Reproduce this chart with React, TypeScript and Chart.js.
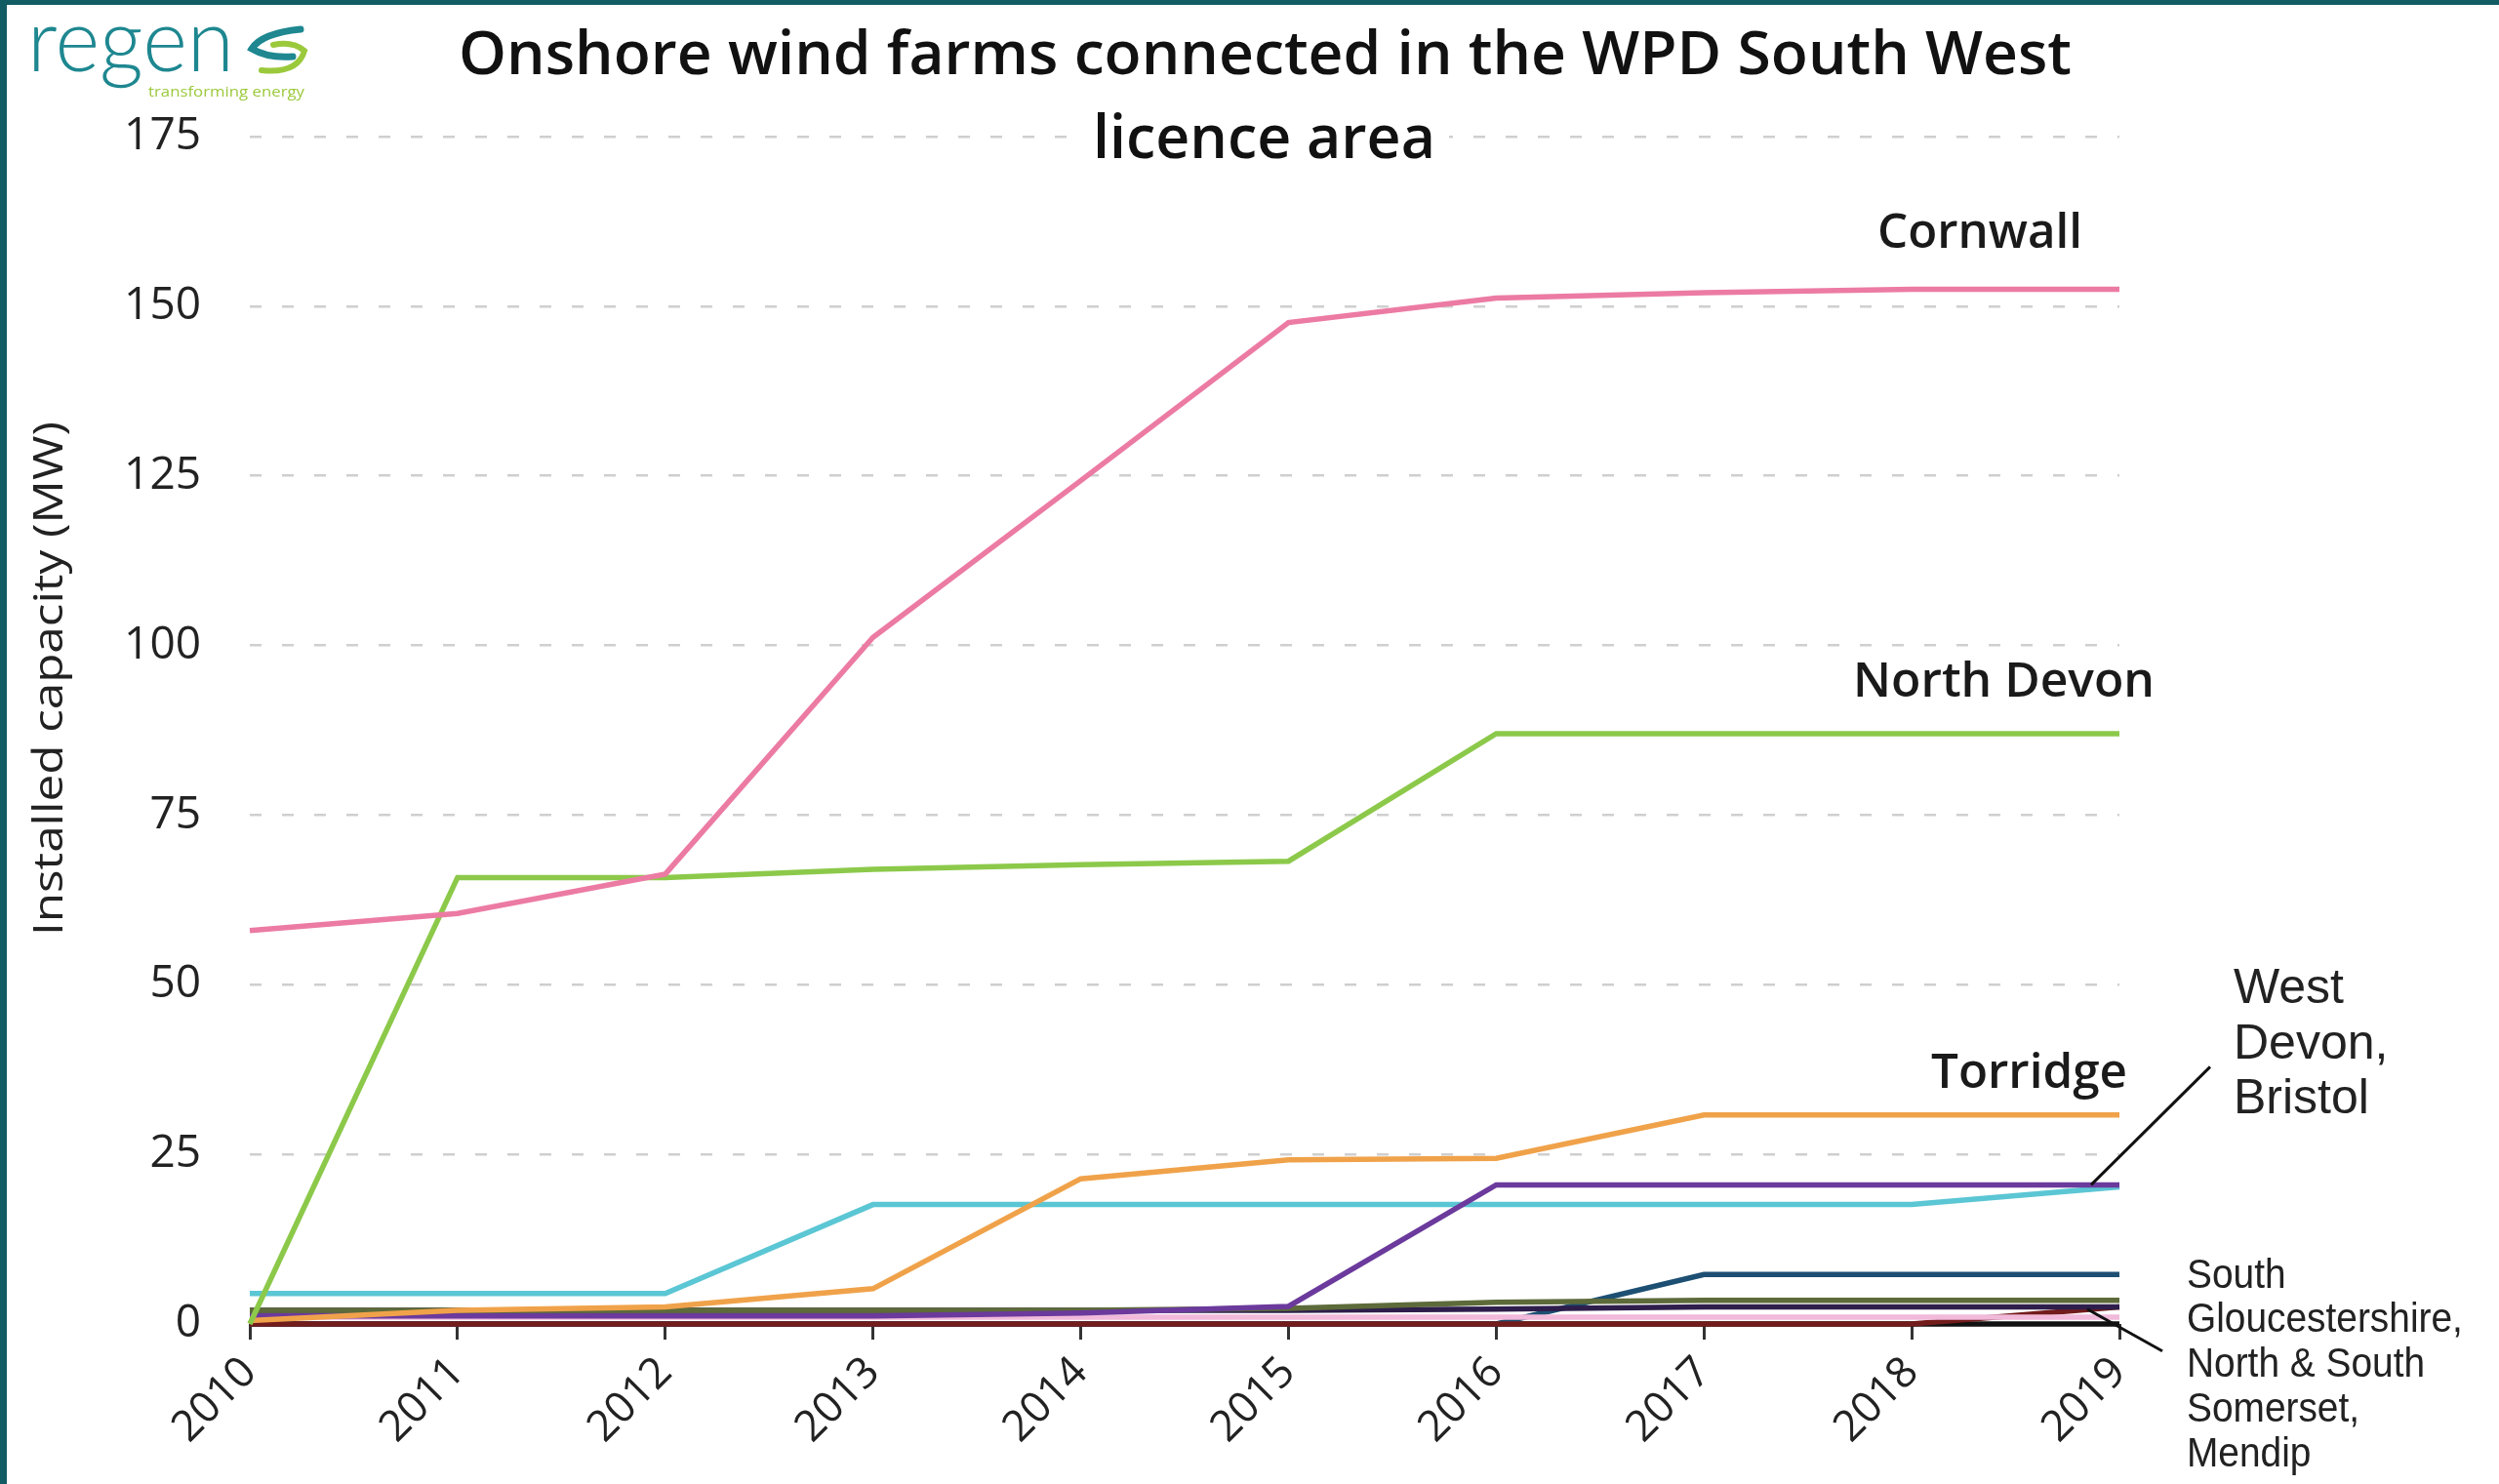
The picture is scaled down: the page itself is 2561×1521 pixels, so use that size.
import React, { useEffect, useRef } from 'react';
import { Chart, registerables } from 'chart.js';

Chart.register(...registerables);

// ---------- data ----------
const years = ['2010', '2011', '2012', '2013', '2014', '2015', '2016', '2017', '2018', '2019'];

const cornwall = [58, 60.5, 66.3, 101.2, 124.3, 147.6, 151.2, 152, 152.5, 152.5];
const northDevon = [0, 65.8, 65.8, 67, 67.7, 68.2, 87, 87, 87, 87];
const torridge = [0.5, 2, 2.5, 5.2, 21.4, 24.2, 24.4, 30.8, 30.8, 30.8];
const westDevon = [1.2, 1.2, 1.2, 1.2, 1.6, 2.6, 20.5, 20.5, 20.5, 20.5];
const bristol = [4.5, 4.5, 4.5, 17.6, 17.6, 17.6, 17.6, 17.6, 17.6, 20.2];
const southGloucestershire = [2, 2, 2, 2, 2, 2.3, 3.2, 3.5, 3.5, 3.5];
const northSomerset = [2, 2, 2, 2, 2, 2, 2.2, 2.5, 2.5, 2.5];
const teignbridge = [1, 1, 1, 1, 1, 1, 1, 1, 1, 1];
const southSomerset = [0, 0, 0, 0, 0, 0, 0, 0, 0, 2.5];
const midDevon = [0, 0, 0, 0, 0, 0, 0, 7.3, 7.3, 7.3];
const mendip = [0, 0, 0, 0, 0, 0, 0, 0, 0, 0];

// first entry is drawn on top
const seriesNames = [
  'Cornwall', 'North Devon', 'Torridge', 'West Devon', 'Bristol',
  'South Gloucestershire', 'North Somerset', 'Teignbridge', 'South Somerset', 'Mid Devon', 'Mendip',
];
const seriesValues = [
  cornwall, northDevon, torridge, westDevon, bristol,
  southGloucestershire, northSomerset, teignbridge, southSomerset, midDevon, mendip,
];
const seriesColors = [
  '#EC7BA3', '#8CC94A', '#F0A24A', '#6B3A9C', '#5BC6D4',
  '#5D6A3A', '#2E1E4C', '#F1B9DA', '#731C1C', '#1D4F73', '#111111',
];

const yMin = 0;
const yMax = 175;
const yStep = 25;

const titleLines = ['Onshore wind farms connected in the WPD South West', 'licence area'];
const yAxisTitle = 'Installed capacity (MW)';
const boldLabels = ['Cornwall', 'North Devon', 'Torridge'];
const westDevonLabel = ['West', 'Devon,', 'Bristol'];
const southLabel = ['South', 'Gloucestershire,', 'North & South', 'Somerset,', 'Mendip'];
const logoText = 'regen';
const logoTagline = 'transforming energy';

// ---------- helpers ----------
function fitText(ctx: CanvasRenderingContext2D, text: string, x: number, y: number, width: number) {
  const w = ctx.measureText(text).width;
  const s = width / w;
  ctx.save();
  ctx.translate(x, y);
  ctx.scale(s, 1);
  ctx.textAlign = 'left';
  ctx.fillText(text, 0, 0);
  ctx.restore();
}

const decorPlugin = {
  id: 'decor',
  afterDraw(chart: any) {
    const ctx: CanvasRenderingContext2D = chart.ctx;
    const W = chart.width;
    const H = chart.height;
    const xs = chart.scales.x;
    const ys = chart.scales.y;
    ctx.save();

    // frame
    ctx.fillStyle = '#125C64';
    ctx.fillRect(0, 0, W, 5);
    ctx.fillRect(0, 0, 7, H);

    // logo
    ctx.fillStyle = '#1E8790';
    ctx.textBaseline = 'alphabetic';
    ctx.font = '300 90px Lato, "Open Sans", sans-serif';
    fitText(ctx, logoText, 28, 73, 212);
    ctx.lineCap = 'round';
    ctx.strokeStyle = '#1E8790';
    ctx.lineWidth = 7;
    ctx.beginPath();
    ctx.moveTo(308, 30);
    ctx.quadraticCurveTo(268, 34, 258, 50);
    ctx.quadraticCurveTo(275, 60, 300, 58);
    ctx.stroke();
    ctx.strokeStyle = '#9BC93C';
    ctx.lineWidth = 6;
    ctx.beginPath();
    ctx.moveTo(268, 72);
    ctx.quadraticCurveTo(305, 76, 312, 52);
    ctx.quadraticCurveTo(300, 42, 280, 46);
    ctx.stroke();
    ctx.fillStyle = '#9BC93C';
    ctx.font = '15px "Open Sans", sans-serif';
    ctx.textBaseline = 'middle';
    fitText(ctx, logoTagline, 152, 95, 160);

    // title
    ctx.fillStyle = '#111';
    ctx.textBaseline = 'middle';
    ctx.font = '600 62px "Open Sans", sans-serif';
    fitText(ctx, titleLines[0], 470, 58, 1653);
    ctx.fillStyle = '#fff';
    ctx.fillRect(1105, 118, 380, 52);
    ctx.fillStyle = '#111';
    fitText(ctx, titleLines[1], 1120, 144, 351);

    // y axis title
    ctx.save();
    ctx.translate(52, 696);
    ctx.rotate(-Math.PI / 2);
    ctx.fillStyle = '#222';
    ctx.font = '42px "Open Sans", sans-serif';
    fitText(ctx, yAxisTitle, -263, 0, 527);
    ctx.restore();

    // series labels
    ctx.fillStyle = '#1a1a1a';
    ctx.font = '600 49px "Open Sans", sans-serif';
    fitText(ctx, boldLabels[0], 1924, 240, 210);
    fitText(ctx, boldLabels[1], 1899, 700, 309);
    fitText(ctx, boldLabels[2], 1979, 1101, 201);

    ctx.fillStyle = '#222';
    ctx.font = '50px "Liberation Sans", Arial, sans-serif';
    const wdY = [1014, 1071, 1127];
    westDevonLabel.forEach((t, i) => {
      ctx.fillText(t, 2289, wdY[i]);
    });

    ctx.font = '42px "Liberation Sans", Arial, sans-serif';
    const sx = 0.925;
    southLabel.forEach((t, i) => {
      ctx.save();
      ctx.translate(2241, 1308 + i * 45.8);
      ctx.scale(sx, 1);
      ctx.textAlign = 'left';
      ctx.fillText(t, 0, 0);
      ctx.restore();
    });

    // pointer lines
    const last = years.length - 1;
    const x19 = xs.getPixelForValue(last);
    ctx.strokeStyle = '#111';
    ctx.lineWidth = 3;
    ctx.lineCap = 'butt';
    const p1y = ys.getPixelForValue(westDevon[last]);
    ctx.beginPath();
    ctx.moveTo(x19 - 29, p1y);
    ctx.lineTo(x19 + 93, p1y - 121);
    ctx.stroke();
    const p2y = ys.getPixelForValue(2.2);
    ctx.beginPath();
    ctx.moveTo(x19 - 33, p2y);
    ctx.lineTo(x19 + 44, p2y + 43);
    ctx.stroke();

    ctx.restore();
  },
};

export default function App() {
  const canvasRef = useRef<HTMLCanvasElement | null>(null);

  useEffect(() => {
    if (!canvasRef.current) return;
    Chart.defaults.font.family = '"Open Sans", sans-serif';
    const chart = new Chart(canvasRef.current, {
      type: 'line',
      data: {
        labels: years,
        datasets: seriesNames.map((name, i) => ({
          label: name,
          data: seriesValues[i],
          borderColor: seriesColors[i],
          backgroundColor: seriesColors[i],
          borderWidth: 5.5,
          pointRadius: 0,
          tension: 0,
          fill: false,
          clip: false as any,
        })),
      },
      options: {
        animation: false,
        responsive: true,
        maintainAspectRatio: false,
        devicePixelRatio: 1,
        layout: { padding: { top: 140, right: 389, bottom: 0, left: 0 } },
        plugins: {
          legend: { display: false },
          tooltip: { enabled: false },
          title: { display: false },
        },
        scales: {
          x: {
            type: 'category',
            offset: false,
            grid: {
              display: true,
              drawOnChartArea: false,
              drawTicks: true,
              tickLength: 16,
              tickColor: '#333',
              tickWidth: 3,
            },
            border: { display: false },
            ticks: {
              minRotation: 45,
              maxRotation: 45,
              autoSkip: false,
              padding: 8,
              color: '#222',
              font: { size: 44 },
            },
            afterFit: (s: any) => {
              s.height = 164;
            },
          },
          y: {
            min: yMin,
            max: yMax,
            ticks: {
              stepSize: yStep,
              padding: 50,
              color: '#222',
              font: { size: 46 },
            },
            grid: {
              drawTicks: false,
              color: '#cfcfcf',
              lineWidth: 2.5,
            },
            border: { display: false, dash: [12, 21] },
            afterFit: (s: any) => {
              s.width = 256;
            },
          },
        },
      },
      plugins: [decorPlugin],
    } as any);
    return () => chart.destroy();
  }, []);

  return (
    <div style={{ position: 'absolute', left: 0, top: 0, width: 2561, height: 1521, background: '#fff' }}>
      <canvas ref={canvasRef} />
    </div>
  );
}
